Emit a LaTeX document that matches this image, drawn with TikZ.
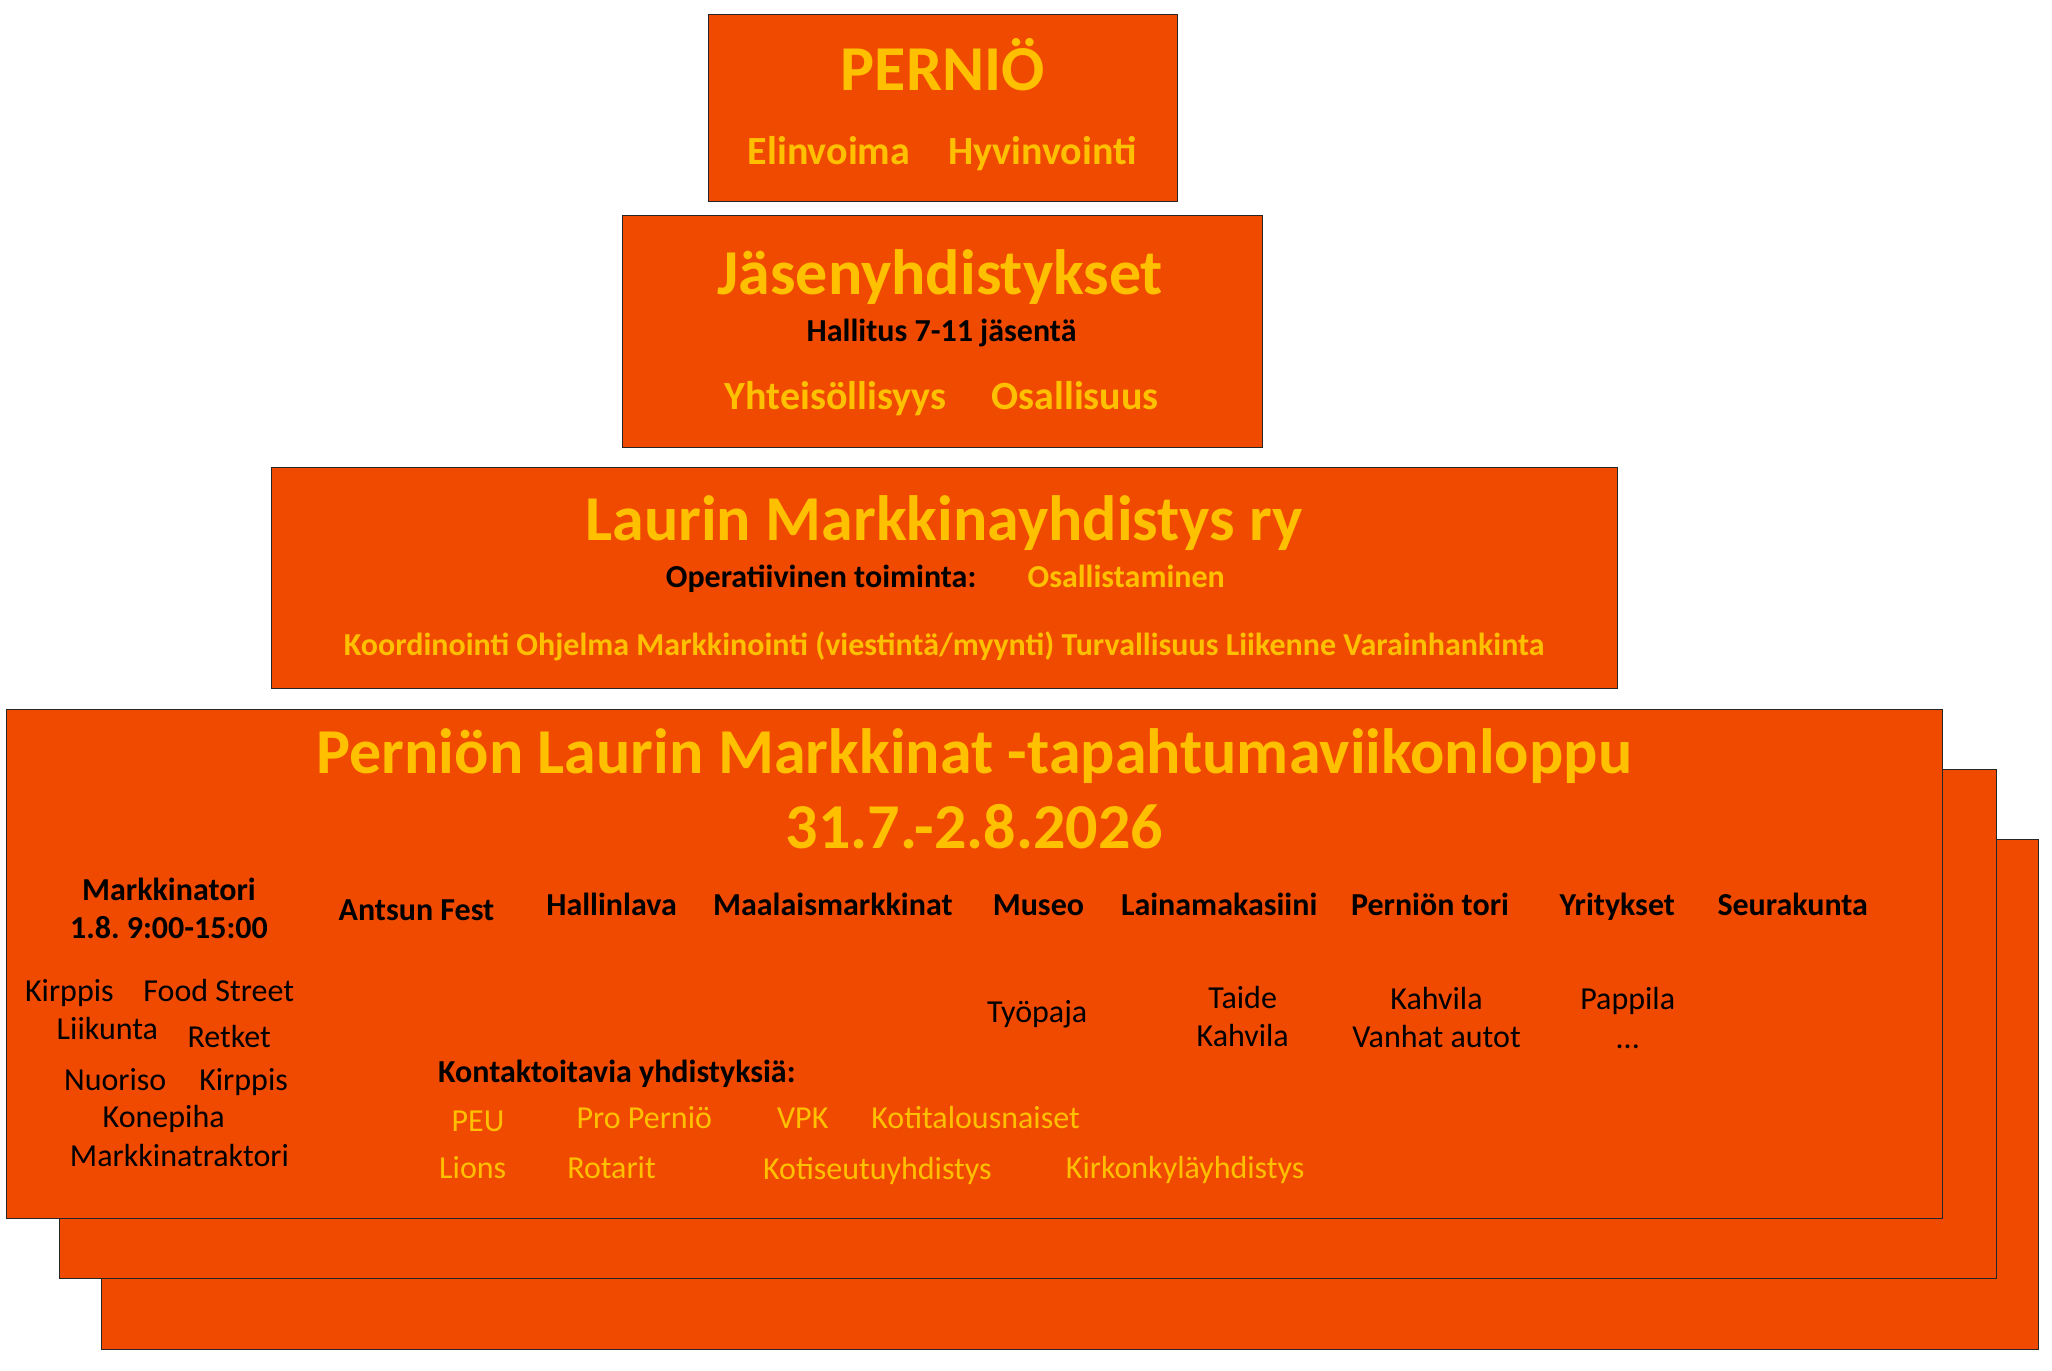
\documentclass[tikz,border=0pt]{standalone}
\usepackage{fontspec}
\setmainfont{Carlito}
\frenchspacing
\definecolor{boxorange}{RGB}{240,74,0}
\definecolor{gold}{RGB}{255,192,0}
\tikzset{
  box/.style={draw=black!85, fill=boxorange, line width=1pt},
  txt/.style={inner sep=0pt, anchor=base},
  ybig/.style={txt, yshift=-20.6pt, text=gold, font=\fontsize{64}{70}\selectfont\bfseries},
  ymid/.style={txt, yshift=-12.9pt, text=gold, font=\fontsize{40}{46}\selectfont\bfseries},
  ysmb/.style={txt, yshift=-10.3pt, text=gold, font=\fontsize{32}{38}\selectfont\bfseries},
  ysm/.style={txt, yshift=-10.3pt, text=gold, font=\fontsize{32}{38}\selectfont},
  kb/.style={txt, yshift=-10.3pt, text=black, font=\fontsize{32}{38}\selectfont\bfseries},
  kr/.style={txt, yshift=-10.3pt, text=black, font=\fontsize{32}{38}\selectfont},
}
\begin{document}
\begin{tikzpicture}[x=1.3095pt, y=-1.3095pt]
\useasboundingbox (0,0) rectangle (1567,1046.2);
% boxes
\draw[box] (77.4,641) rectangle (1556.8,1030.2);
\draw[box] (45.3,588) rectangle (1524.6,976.2);
\draw[box] (4.8,541.5) rectangle (1483.5,930.4);
\draw[box] (207,357) rectangle (1235,526);
\draw[box] (541,10.7) rectangle (899.3,153.7);
\draw[box] (475,164.7) rectangle (964,342);
% box 1
\node[ybig] (pernio) at (720,53) {PERNIÖ};
\node[ymid] (elin) at (633,116) {Elinvoima};
\node[ymid] (hyvin) at (796,116) {Hyvinvointi};
% box 2
\node[ybig] (jasen) at (718,209) {Jäsenyhdistykset};
\node[kb] (hallitus) at (719,253) {Hallitus 7-11 jäsentä};
\node[ymid] (yhteis) at (638,303) {Yhteisöllisyys};
\node[ymid] (osall) at (821,303) {Osallisuus};
% box 3
\node[ybig] (laurin) at (721,397) {Laurin Markkinayhdistys ry};
\node[kb] (oper) at (627,441) {Operatiivinen toiminta:};
\node[ysmb] (osallist) at (860,441) {Osallistaminen};
\node[ysmb] (koord) at (721,493) {Koordinointi Ohjelma Markkinointi (viestintä/myynti) Turvallisuus Liikenne Varainhankinta};
% box 4
\node[ybig] (title1) at (744,575) {Perniön Laurin Markkinat -tapahtumaviikonloppu};
\node[ybig] (title2) at (744,632) {31.7.-2.8.2026};
\node[kb] (mtori) at (129,680) {Markkinatori};
\node[kb] (mtime) at (129,709) {1.8. 9:00-15:00};
\node[kb] (antsun) at (318,695) {Antsun Fest};
\node[kb] (hallin) at (467,691) {Hallinlava};
\node[kb] (maalais) at (636,691) {Maalaismarkkinat};
\node[kb] (museo) at (793,691) {Museo};
\node[kb] (laina) at (931,691) {Lainamakasiini};
\node[kb] (tori) at (1092,691) {Perniön tori};
\node[kb] (yrit) at (1235,691) {Yritykset};
\node[kb] (seura) at (1369,691) {Seurakunta};
% left list
\node[kr] (kirppis1) at (53,757) {Kirppis};
\node[kr] (food) at (167,757) {Food Street};
\node[kr] (liikunta) at (82,786) {Liikunta};
\node[kr] (retket) at (175,792) {Retket};
\node[kr] (nuoriso) at (88,825) {Nuoriso};
\node[kr] (kirppis2) at (186,825) {Kirppis};
\node[kr] (konepiha) at (125,853) {Konepiha};
\node[kr] (traktori) at (137,883) {Markkinatraktori};
% middle
\node[kr] (tyopaja) at (792,773) {Työpaja};
\node[kr] (taide) at (949,762) {Taide};
\node[kr] (kahvila1) at (949,791) {Kahvila};
\node[kr] (kahvila2) at (1097,763) {Kahvila};
\node[kr] (vanhat) at (1097,792) {Vanhat autot};
\node[kr] (pappila) at (1243,763) {Pappila};
\node[kr] (dots) at (1243,793) {...};
% contacts
\node[kb] (kontakt) at (471,819) {Kontaktoitavia yhdistyksiä:};
\node[ysm] (peu) at (365,856) {PEU};
\node[ysm] (pro) at (492,854) {Pro Perniö};
\node[ysm] (vpk) at (613,854) {VPK};
\node[ysm] (koti) at (745,854) {Kotitalousnaiset};
\node[ysm] (lions) at (361,892) {Lions};
\node[ysm] (rotarit) at (467,892) {Rotarit};
\node[ysm] (kotiseutu) at (670,893) {Kotiseutuyhdistys};
\node[ysm] (kirkon) at (905,892) {Kirkonkyläyhdistys};
\end{tikzpicture}
\end{document}
